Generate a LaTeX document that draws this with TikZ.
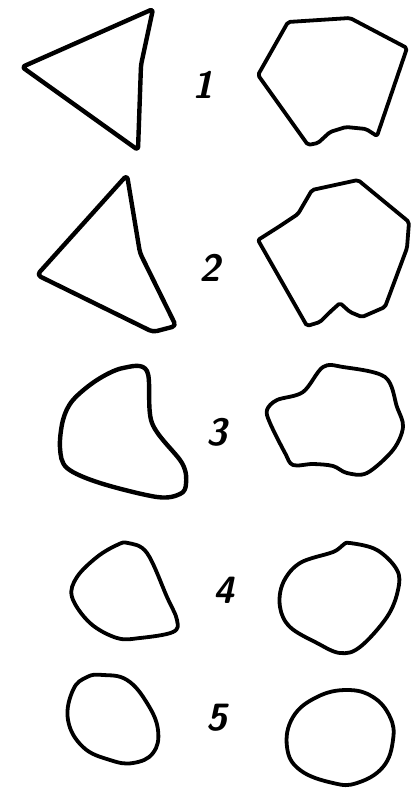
\documentclass[tikz,border=0pt]{standalone}
\begin{document}
\begin{tikzpicture}[x=1pt,y=-1pt,
  outl/.style={line width=3.8pt,line join=round,line cap=round},
  thick outl/.style={line width=4.4pt,line join=round,line cap=round},
  lbl/.style={font=\fontsize{38}{38}\selectfont\sffamily\bfseries\itshape,inner sep=0pt}]
\useasboundingbox (0,0) rectangle (411,788);
% row 1
\draw[thick outl,rounded corners=3pt] (22,67) -- (153,9) -- (141,65) -- (138,150) -- cycle;
\node[lbl] (l1) at (203,85) {1};
\draw[outl,rounded corners=2pt] (258,75) -- (288,22) -- (350,18) -- (407,48) -- (377,136) -- (366,129) -- (346,127) -- (330,132) -- (318,143) -- (308,145) -- cycle;
% row 2
\draw[thick outl,rounded corners=4pt] (127,175) -- (140,253) -- (176,326) -- (153,332) -- (37,275) -- cycle;
\node[lbl] (l2) at (210,268) {2};
\draw[outl,rounded corners=2pt] (258,240) -- (280,226) -- (298,214) -- (312,190) -- (358,180) -- (409,222) -- (407,248) -- (385,307) -- (362,317) -- (350,312) -- (340,303) -- (330,312) -- (320,322) -- (307,326) -- cycle;
% row 3
\draw[thick outl] plot[smooth cycle,tension=0.55] coordinates {(123,368) (147,371) (152,423) (182,463) (186,484) (180,494) (157,497) (100,483) (67,468) (60,448) (63,420) (73,400) (97,380)};
\node[lbl] (l3) at (217,432) {3};
\draw[outl] plot[smooth cycle,tension=0.55] coordinates {(267,410) (277,400) (303,392) (323,367) (343,367) (385,377) (397,407) (403,427) (393,450) (367,473) (347,473) (333,466) (313,464) (293,465) (285,453) (270,423)};
% row 4
\draw[outl] plot[smooth cycle,tension=0.6] coordinates {(128,543) (147,553) (167,597) (177,620) (173,632) (140,638) (117,638) (90,623) (72,597) (77,577) (97,557) (117,545)};
\node[lbl] (l4) at (224,590) {4};
\draw[outl] plot[smooth cycle,tension=0.6] coordinates {(350,543) (377,550) (397,570) (398,590) (387,617) (360,647) (340,653) (317,643) (290,627) (280,607) (283,583) (300,563) (333,552) (343,545)};
% row 5
\draw[outl] plot[smooth cycle,tension=0.7] coordinates {(103,675) (127,680) (147,703) (158,730) (153,753) (133,763) (110,760) (83,747) (68,720) (73,690) (87,677)};
\node[lbl] (l5) at (217,718) {5};
\draw[outl] plot[smooth cycle,tension=0.7] coordinates {(347,690) (373,697) (390,717) (393,740) (383,767) (357,783) (333,783) (300,770) (287,747) (293,717) (317,697)};
\end{tikzpicture}
\end{document}
